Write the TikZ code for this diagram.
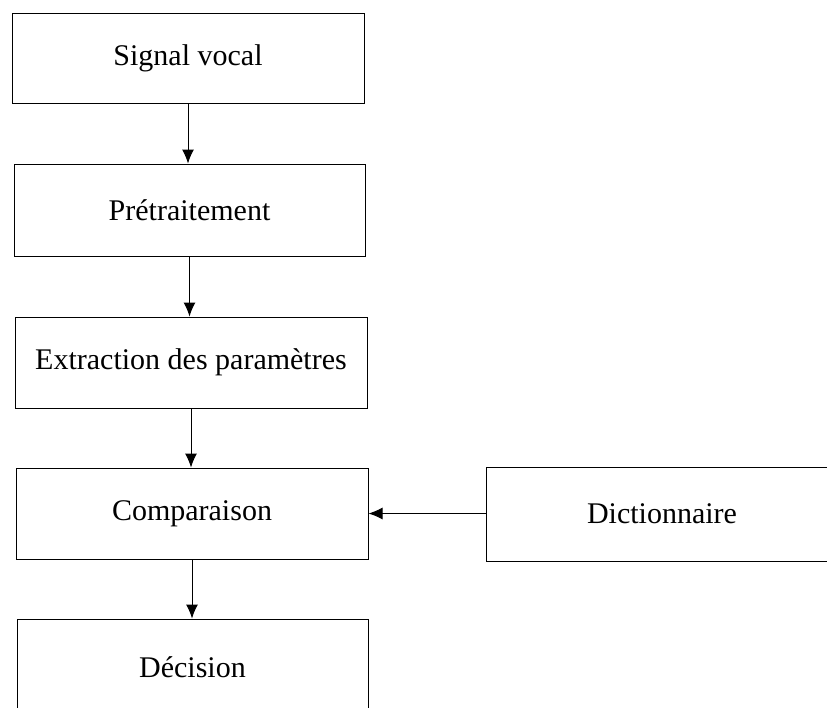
\documentclass[tikz,border=0pt]{standalone}
\usepackage{fontspec}
\setmainfont{Liberation Serif}
\usetikzlibrary{arrows.meta}
\begin{document}
\begin{tikzpicture}[x=1pt,y=-1pt,
  box/.style={draw, line width=1pt, rectangle, inner sep=0pt, font=\fontsize{30}{34}\selectfont},
  flow/.style={line width=1pt, -{Latex[length=14pt,width=12pt]}}]
\useasboundingbox (0,0) rectangle (827,707);
\clip (0,0) rectangle (827,707);
\node[box, minimum width=352pt, minimum height=90pt] (sig) at (188,58) {Signal vocal};
\node[box, minimum width=351pt, minimum height=92pt] (pre) at (189.5,210) {Prétraitement};
\node[box, minimum width=352pt, minimum height=91pt] (ext) at (191,362.5) {Extraction des paramètres};
\node[box, minimum width=352pt, minimum height=91pt] (cmp) at (192,513.5) {Comparaison};
\node[box, minimum width=351pt, minimum height=96pt] (dec) at (192.5,667) {Décision};
\node[box, minimum width=352pt, minimum height=94pt] (dic) at (662,514) {Dictionnaire};
\draw[flow] (sig.south) -- (sig.south |- pre.north);
\draw[flow] (pre.south) -- (pre.south |- ext.north);
\draw[flow] (ext.south) -- (ext.south |- cmp.north);
\draw[flow] (cmp.south) -- (cmp.south |- dec.north);
\draw[flow] (dic.west |- cmp.east) -- (cmp.east);
\end{tikzpicture}
\end{document}
